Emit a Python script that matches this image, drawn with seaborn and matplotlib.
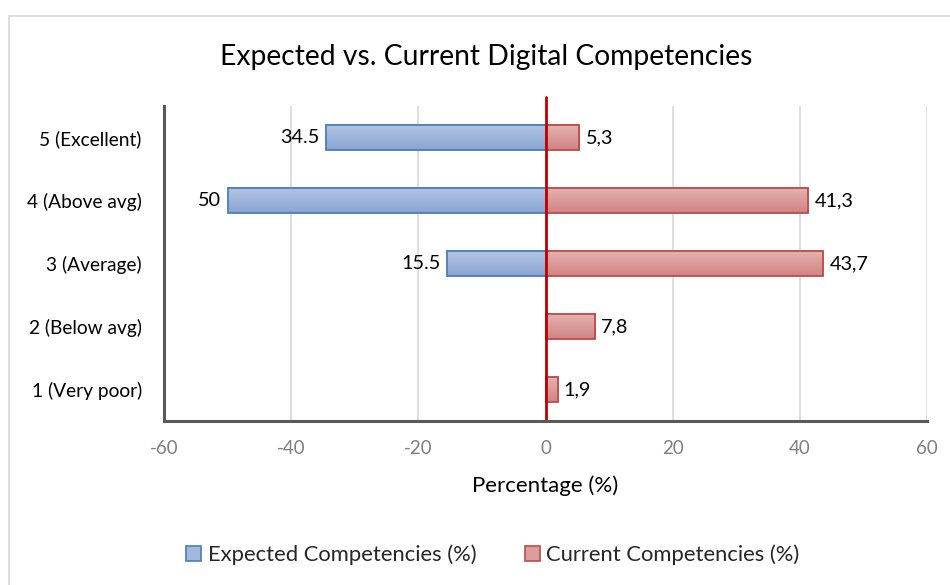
import numpy as np
import pandas as pd
import matplotlib
matplotlib.use("Agg")
import matplotlib.pyplot as plt
from matplotlib.patches import Patch, Rectangle
from matplotlib.colors import LinearSegmentedColormap
import seaborn as sns

# Survey levels (top to bottom) and the two series in percent
levels = ["5 (Excellent)", "4 (Above avg)", "3 (Average)", "2 (Below avg)", "1 (Very poor)"]
expected = [34.5, 50, 15.5, 0, 0]
current = [5.3, 41.3, 43.7, 7.8, 1.9]
series_names = ["Expected Competencies (%)", "Current Competencies (%)"]
x_ticks = [-60, -40, -20, 0, 20, 40, 60]

sns.set_theme(style="white")
plt.rcParams["font.family"] = ["Lato", "DejaVu Sans"]

df = pd.DataFrame({
    "level": levels * 2,
    "value": [-v for v in expected] + current,
    "series": [series_names[0]] * len(levels) + [series_names[1]] * len(levels),
})

fig = plt.figure(figsize=(9.5, 5.85), dpi=100)
ax = fig.add_axes([164 / 950, 1 - 421 / 585, (927 - 164) / 950, (421 - 106) / 585])

blue_edge, red_edge = "#4a7ebb", "#be4b48"
blue_grad = ("#b3c5e4", "#8aa5d2")
red_grad = ("#e5b3b2", "#d08483")

sns.barplot(data=df, y="level", x="value", hue="series", order=levels,
            hue_order=series_names, dodge=False, width=0.41, orient="h",
            palette=[blue_grad[1], red_grad[1]], legend=False, ax=ax, zorder=3)

ax.set_xlim(-60, 60)
ax.set_ylim(len(levels) - 0.5, -0.5)


def shade_bar(patch, colors, edge):
    x0, y0 = patch.get_x(), patch.get_y()
    w, h = patch.get_width(), patch.get_height()
    patch.set_facecolor("none")
    patch.set_edgecolor(edge)
    patch.set_linewidth(1.3)
    patch.set_zorder(4)
    if w == 0:
        patch.set_visible(False)
        return
    cmap = LinearSegmentedColormap.from_list("shade", list(colors))
    grad = np.linspace(0, 1, 64).reshape(-1, 1)
    ax.imshow(grad, cmap=cmap, aspect="auto", origin="upper",
              extent=(min(x0, x0 + w), max(x0, x0 + w), y0 + h, y0),
              zorder=3, interpolation="bilinear")


for container, colors, edge in zip(ax.containers, [blue_grad, red_grad], [blue_edge, red_edge]):
    for patch in container:
        shade_bar(patch, colors, edge)

ax.set_xlim(-60, 60)
ax.set_ylim(len(levels) - 0.5, -0.5)

# value labels: expected with decimal point, current with decimal comma
exp_labels = [f"{v:g}" if v else "" for v in expected]
cur_labels = [f"{v:.1f}".replace(".", ",") for v in current]
ax.bar_label(ax.containers[0], labels=exp_labels, padding=4.5, fontsize=14.3, color="#000000")
ax.bar_label(ax.containers[1], labels=cur_labels, padding=4.5, fontsize=14.3, color="#000000")

# grid, zero line and axis styling
ax.set_xticks(x_ticks)
ax.set_xticklabels([str(t) for t in x_ticks])
for t in x_ticks:
    if t not in (-60, 0):
        ax.axvline(t, color="#d9d9d9", lw=1.2, zorder=1)
ax.axvline(0, ymin=0, ymax=1.027, color="#c00000", lw=2, zorder=5, clip_on=False)

for side in ("top", "right"):
    ax.spines[side].set_visible(False)
for side in ("left", "bottom"):
    ax.spines[side].set_color("#595959")
    ax.spines[side].set_linewidth(2.2)
    ax.spines[side].set_zorder(6)

ax.tick_params(axis="x", length=0, pad=14, labelsize=13.5, labelcolor="#7f7f7f")
ax.tick_params(axis="y", length=0, pad=16, labelsize=13.8, labelcolor="#000000")
ax.set_ylabel("")
ax.set_xlabel("Percentage (%)", fontsize=16, color="#000000", labelpad=13)

fig.text(486 / 950, 1 - 57 / 585, "Expected vs. Current Digital Competencies",
         ha="center", va="center", fontsize=20.3, color="#000000")

handles = [Patch(facecolor="#a3b8de", edgecolor=blue_edge, lw=1.2),
           Patch(facecolor="#dc9e9d", edgecolor=red_edge, lw=1.2)]
fig.legend(handles, series_names, loc="center", bbox_to_anchor=(493 / 950, 1 - 555 / 585),
           ncol=2, frameon=False, fontsize=15.8, handlelength=0.68, handleheight=0.68,
           handletextpad=0.3, columnspacing=2.2)

# chart frame
fig.patches.append(Rectangle((9 / 950, -0.1), 1.2, 1 - 16 / 585 + 0.1, transform=fig.transFigure,
                             fill=False, edgecolor="#d9d9d9", lw=1.2))

fig.savefig("out.png", dpi=100, facecolor="white")
